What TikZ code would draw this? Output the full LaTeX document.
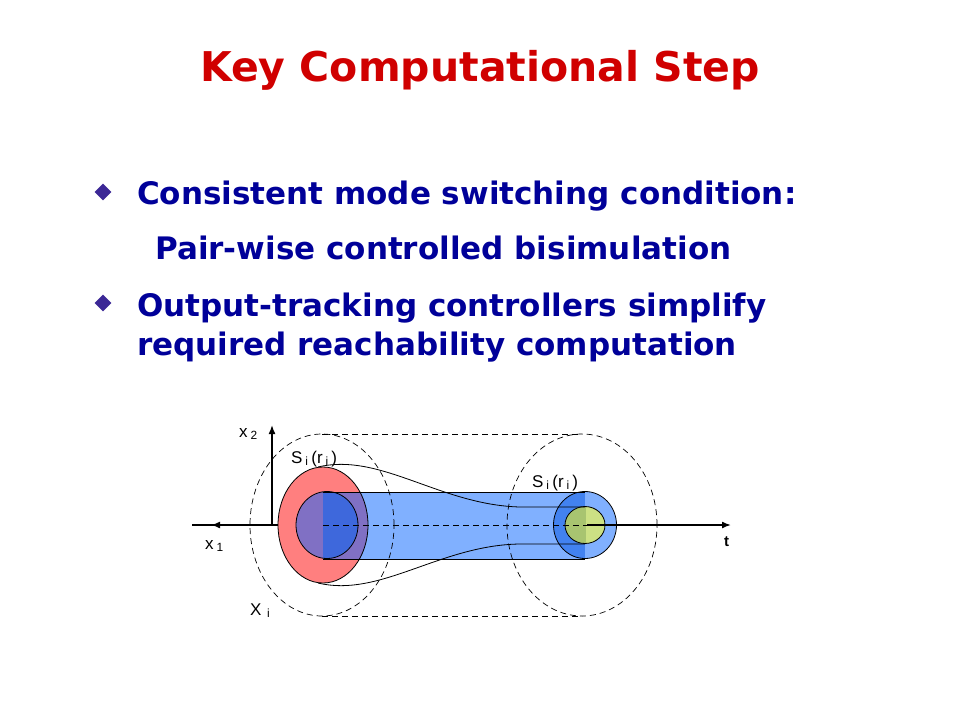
\documentclass[tikz,border=0pt]{standalone}
\usepackage{fontspec}
\setmainfont{DejaVu Sans}
\newfontfamily\figfont{Liberation Sans}
\usepackage{xcolor}
\usetikzlibrary{positioning,shapes,arrows.meta}
\definecolor{titlered}{HTML}{D00000}
\definecolor{textblue}{HTML}{000099}
\definecolor{bulletc}{HTML}{3C2896}
\definecolor{setred}{HTML}{FF7F7F}
\definecolor{mixpurple}{HTML}{8070C4}
\definecolor{tubeblue}{HTML}{80B0FF}
\definecolor{deepblue}{HTML}{3E68DC}
\definecolor{midblue}{HTML}{4282F0}
\definecolor{olive}{HTML}{A8C470}
\definecolor{lime}{HTML}{CCE184}

\begin{document}
\begin{tikzpicture}[
    x=1pt, y=-1pt,
    title/.style={font=\fontsize{41}{46}\selectfont\bfseries, text=titlered, anchor=base, inner sep=0pt},
    item/.style={font=\fontsize{31}{36}\selectfont\bfseries, text=textblue, anchor=base west, inner sep=0pt},
    bullet/.style={diamond, fill=bulletc, minimum size=17pt, inner sep=0pt},
    lbl/.style={font=\figfont\fontsize{17}{18}\selectfont, anchor=base west, inner sep=0pt},
    axis/.style={line width=1.6pt, -{Latex[length=9pt,width=7pt]}},
    guide/.style={dash pattern=on 6pt off 4pt, line width=0.7pt},
    rim/.style={line width=0.8pt}
]
\useasboundingbox (0,0) rectangle (960,720);

\node[title] (title) at (480,81) {Key Computational Step};

\node[bullet] (b1) at (103,192) {};
\node[item] (cond) at (137,204) {Consistent mode switching condition:};
\node[item] (pair) at (155,259) {Pair-wise controlled bisimulation};
\node[bullet] (b2) at (103,303) {};
\node[item] (track) at (137,316) {Output-tracking controllers simplify};
\node[item] (reach) at (137,355) {required reachability computation};

\coordinate (c0) at (323,525);
\coordinate (c1) at (585,525);

\fill[setred] (c0) ellipse [x radius=45pt, y radius=58pt];
\fill[tubeblue] (323,492) rectangle (585,559);
\begin{scope}
  \clip (c0) ellipse [x radius=45pt, y radius=58pt];
  \fill[mixpurple] (323,492) rectangle (585,559);
\end{scope}
\begin{scope}
  \clip (327,525) ellipse [x radius=31pt, y radius=33.5pt];
  \fill[mixpurple] (290,480) rectangle (323,570);
  \fill[deepblue] (323,480) rectangle (370,570);
\end{scope}
\begin{scope}
  \clip (c1) ellipse [x radius=31.5pt, y radius=33.5pt];
  \fill[midblue] (540,480) rectangle (585,570);
  \fill[tubeblue] (585,480) rectangle (630,570);
\end{scope}
\begin{scope}
  \clip (585,525) ellipse [x radius=20pt, y radius=18.5pt];
  \fill[olive] (560,500) rectangle (586,550);
  \fill[lime] (586,500) rectangle (610,550);
\end{scope}

\draw[rim] (c0) ellipse [x radius=45pt, y radius=58pt];
\draw[rim] (327,525) ellipse [x radius=31pt, y radius=33.5pt];
\draw[rim] (c1) ellipse [x radius=31.5pt, y radius=33.5pt];
\draw[rim] (585,525) ellipse [x radius=20pt, y radius=18.5pt];
\draw[rim] (323,492) -- (585,492);
\draw[rim] (323,559) -- (585,559);

\draw[rim] (318,467) .. controls (380,452) and (440,505) .. (520,507) -- (585,507);
\draw[rim] (318,583) .. controls (380,598) and (440,545) .. (520,544) -- (585,544);

\coordinate (o) at (272,525);
\draw[axis] (o) -- (272,425);
\draw[line width=1.6pt] (278,525) -- (192,525);
\draw[axis] (278,525) -- (211,525);
\draw[guide] (c0) -- (587,525);
\draw[axis] (587,525) -- (731,525);

\draw[guide] (322,525) ellipse [x radius=72pt, y radius=91pt];
\draw[guide] (582,525) ellipse [x radius=75pt, y radius=91pt];
\draw[guide] (322,434) -- (582,434);
\draw[guide] (322,616) -- (582,616);

\node[lbl] (x2) at (239,437) {x\,\textsubscript{2}};
\node[lbl] (x1) at (205,549) {x\,\textsubscript{1}};
\node[lbl] (xi) at (250,615) {X\,\,\textsubscript{i}};
\node[lbl] (sl) at (291,463) {S\,\textsubscript{i}\,(r\,\textsubscript{i}\,)};
\node[lbl] (sr) at (532,487) {S\,\textsubscript{i}\,(r\,\textsubscript{i}\,)};
\node[lbl, font=\figfont\bfseries\fontsize{15}{16}\selectfont] (t) at (724,546) {t};
\end{tikzpicture}
\end{document}
